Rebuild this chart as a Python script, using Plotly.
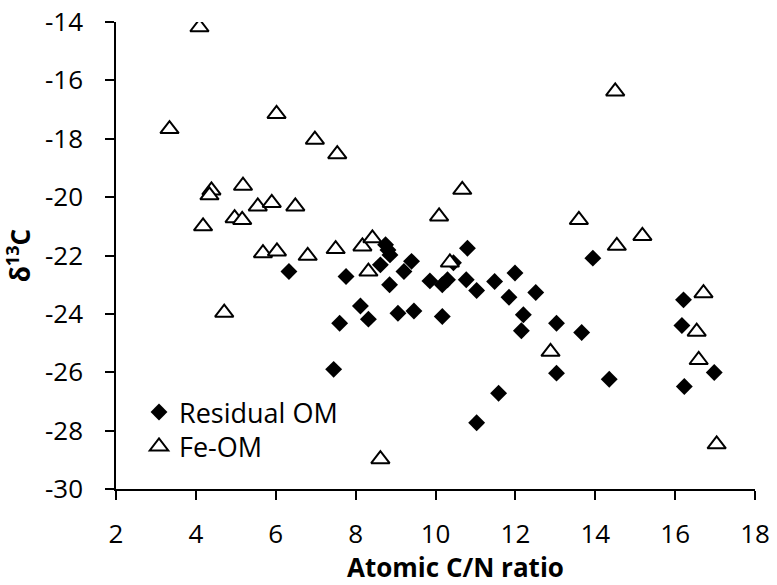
import plotly.graph_objects as go

# Residual OM (filled diamonds)
res_cn = [6.33, 7.45, 7.60, 7.76, 8.12, 8.32, 8.62, 8.75, 8.81, 8.86, 8.85, 9.06, 9.21, 9.40,
          9.46, 9.86, 10.17, 10.30, 10.17, 10.45, 10.77, 10.80, 11.03, 11.03, 11.48, 11.58,
          11.84, 11.99, 12.20, 12.15, 12.51, 13.03, 13.03, 13.66, 13.94, 14.35, 16.21, 16.17,
          16.23, 16.98]
res_d13c = [-22.55, -25.90, -24.32, -22.72, -23.73, -24.18, -22.32, -21.63, -21.81, -21.98,
            -23.00, -23.98, -22.55, -22.20, -23.90, -22.87, -23.00, -22.83, -24.09, -22.25,
            -22.83, -21.75, -23.20, -27.73, -22.89, -26.72, -23.43, -22.60, -24.03, -24.58,
            -23.27, -24.32, -26.03, -24.64, -22.09, -26.24, -23.52, -24.40, -26.49, -26.01]

# Fe-OM (open triangles)
fe_cn = [4.09, 3.34, 6.02, 6.98, 7.54, 4.39, 4.34, 5.18, 4.18, 4.97, 5.16, 5.55, 5.90, 6.49,
         5.68, 6.03, 6.80, 4.71, 7.50, 8.17, 8.42, 8.32, 8.62, 10.09, 10.67, 10.36, 12.88,
         13.59, 14.50, 14.54, 15.18, 16.71, 16.54, 16.59, 17.04]
fe_d13c = [-14.18, -17.67, -17.15, -18.03, -18.53, -19.77, -19.94, -19.61, -21.00, -20.72,
           -20.78, -20.32, -20.20, -20.32, -21.92, -21.86, -22.01, -23.96, -21.78, -21.69,
           -21.41, -22.55, -28.98, -20.66, -19.75, -22.24, -25.30, -20.78, -16.38, -21.67,
           -21.33, -23.29, -24.61, -25.58, -28.47]

x_ticks = [2, 4, 6, 8, 10, 12, 14, 16, 18]
y_ticks = [-30, -28, -26, -24, -22, -20, -18, -16, -14]

FONT = "Open Sans"

fig = go.Figure()
fig.add_trace(go.Scatter(
    x=res_cn, y=res_d13c, mode="markers", name="Residual OM", legend="legend",
    marker=dict(symbol="diamond", size=13, color="black", line=dict(width=0)),
))
fig.add_trace(go.Scatter(
    x=fe_cn, y=fe_d13c, mode="markers", name="Fe-OM", legend="legend2",
    marker=dict(symbol="triangle-up", size=16, color="white",
                line=dict(width=2, color="black")),
))

axis_common = dict(
    showline=True, linecolor="black", linewidth=1.5,
    ticks="outside", ticklen=9, tickwidth=1.5, tickcolor="black",
    showgrid=False, zeroline=False, automargin=False,
    tickfont=dict(family=FONT, size=26, color="black"),
)
fig.update_xaxes(range=[2, 18], tickvals=x_ticks, ticktext=[str(v) for v in x_ticks],
                 ticklabelstandoff=12, **axis_common)
fig.update_yaxes(range=[-30, -14], tickvals=y_ticks, ticktext=[str(v) for v in y_ticks],
                 ticklabelstandoff=17, **axis_common)

legend_common = dict(xanchor="left", yanchor="top", bgcolor="rgba(0,0,0,0)",
                     borderwidth=0, font=dict(family=FONT, size=27, color="black"))

fig.update_layout(
    template="none",
    width=777, height=585,
    margin=dict(l=116, r=22, t=22, b=96, autoexpand=False),
    paper_bgcolor="white", plot_bgcolor="white",
    font=dict(family=FONT, color="black"),
    showlegend=True,
    legend=dict(x=0.036, y=0.2164, **legend_common),
    legend2=dict(x=0.036, y=0.1425, **legend_common),
    annotations=[
        dict(text="<b>Atomic C/N ratio</b>", xref="paper", yref="paper",
             x=0.532, y=-0.167, xanchor="center", yanchor="middle", showarrow=False,
             font=dict(family=FONT, size=26, color="black")),
        dict(text="<b>δ<sup>13</sup>C</b>", xref="paper", yref="paper",
             x=-0.152, y=0.5, xanchor="center", yanchor="middle", showarrow=False,
             textangle=-90, font=dict(family=FONT, size=26, color="black")),
    ],
)

fig.write_html("out.html")
